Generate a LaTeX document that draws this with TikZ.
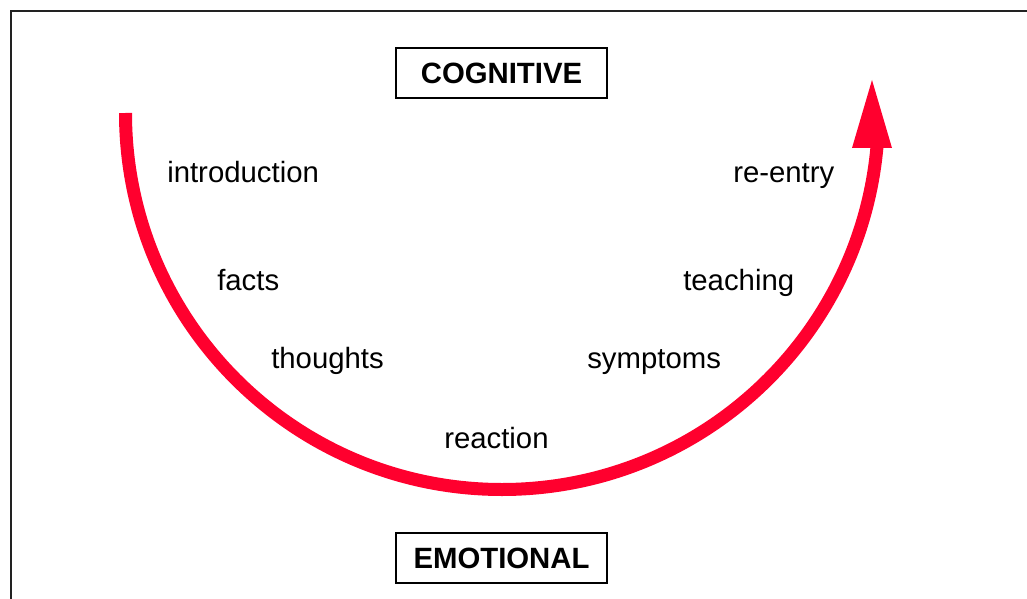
\documentclass[tikz,border=0pt]{standalone}
\usepackage{fontspec}
\setmainfont{Liberation Sans}
\definecolor{cyclered}{RGB}{255,0,46}
\definecolor{framegray}{RGB}{34,34,34}
\tikzset{x=0.75pt, y=0.75pt,
  stage/.style={anchor=base west, inner sep=0pt, font=\fontsize{22}{24}\selectfont},
  phase/.style={draw, line width=1.1pt, minimum width=158pt, minimum height=37.5pt, inner sep=0pt,
                font=\fontsize{22}{24}\selectfont\bfseries},
  cycle line/.style={cyclered, line width=9.75pt, line cap=butt}}

\begin{document}
\begin{tikzpicture}
   \clip (0,0) rectangle (1027,-599);
   \draw[framegray, line width=1.5pt] (11,-11) rectangle (1040,-620);
   % the U-shaped course
   \draw[cycle line] (125.5,-113) arc[start angle=180, end angle=354.97, radius=376.5];
   \fill[cyclered] (852,-148) -- (872,-80) -- (892,-148) -- cycle;
   % the two levels
   \node[phase] (cog) at (501.5,-73)  {COGNITIVE};
   \node[phase] (emo) at (501.5,-558) {EMOTIONAL};
   % the stages along the course
   \node[stage] (intro)    at (167,-182) {introduction};
   \node[stage] (facts)    at (217,-290) {facts};
   \node[stage] (thoughts) at (271,-368) {thoughts};
   \node[stage] (reaction) at (444,-448) {reaction};
   \node[stage] (symptoms) at (587,-368) {symptoms};
   \node[stage] (teaching) at (683,-290) {teaching};
   \node[stage] (reentry)  at (733,-182) {re-entry};
\end{tikzpicture}
\end{document}
